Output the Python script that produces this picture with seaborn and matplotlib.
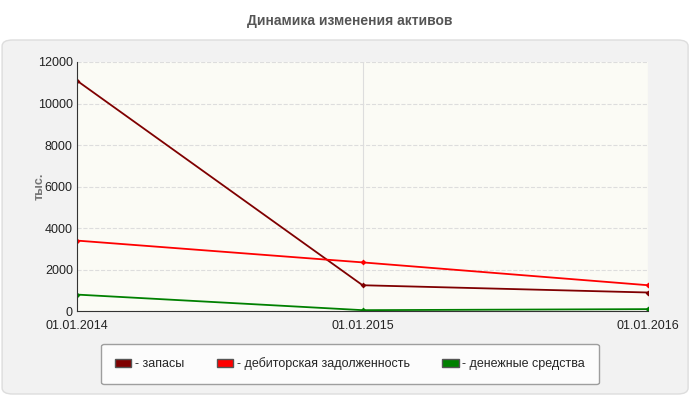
import matplotlib
matplotlib.use("Agg")
import matplotlib.pyplot as plt
import seaborn as sns
import pandas as pd
from matplotlib.patches import FancyBboxPatch

dates = ["01.01.2014", "01.01.2015", "01.01.2016"]
zapasy = [11100, 1250, 900]
debitor = [3400, 2350, 1250]
dengi = [800, 50, 100]
names = ["- запасы", "- дебиторская задолженность", "- денежные средства"]
colors = ["#7f0000", "#ff0000", "#008000"]

df = pd.DataFrame({"x": list(range(3)) * 3,
                   "y": zapasy + debitor + dengi,
                   "s": [n for n in names for _ in range(3)]})

sns.set_style("white")
plt.rcParams["font.family"] = ["Liberation Sans", "DejaVu Sans"]

fig = plt.figure(figsize=(7, 4), dpi=100)
fig.patches.append(FancyBboxPatch((0.003, 0.015), 0.98, 0.885, boxstyle="round,pad=0,rounding_size=0.015",
                                  transform=fig.transFigure, fc="#f2f2f2", ec="#dddddd", lw=1, zorder=-10))
fig.text(0.5, 0.948, "Динамика изменения активов", ha="center", va="center",
         fontsize=10, fontweight="bold", color="#555555")

ax = fig.add_axes([0.11, 0.222, 0.816, 0.623])
ax.set_facecolor("#fbfbf5")
sns.lineplot(data=df, x="x", y="y", hue="s", palette=colors, ax=ax, marker="D",
             markersize=3, markeredgewidth=0, linewidth=1.3, legend=False)
ax.set_xlim(0, 2)
ax.set_ylim(0, 12000)
ax.set_xticks([0, 1, 2])
ax.set_xticklabels(dates)
ax.set_yticks(range(0, 12001, 2000))
ax.tick_params(labelsize=9, colors="#222222", length=0, pad=3)
ax.xaxis.set_tick_params(pad=6)
ax.grid(True, axis="y", ls="--", color="#dddddd", lw=0.8)
ax.grid(True, axis="x", ls="-", color="#dddddd", lw=0.8)
ax.set_xlabel("")
ax.set_ylabel("тыс.", fontsize=9, fontweight="bold", color="#777777", labelpad=-2)
ax.yaxis.set_label_coords(-0.055, 0.5)
for sp in ax.spines.values():
    sp.set_visible(False)
ax.spines["left"].set_visible(True)
ax.spines["bottom"].set_visible(True)
ax.spines["left"].set_color("#333333")
ax.spines["bottom"].set_color("#333333")

handles = [plt.Rectangle((0, 0), 1, 1, fc=c, ec="#555555") for c in colors]
leg = fig.legend(handles, names, loc="center", bbox_to_anchor=(0.5, 0.09), ncol=3,
                 frameon=True, fontsize=9, handlelength=1.3, handleheight=0.7,
                 columnspacing=2.6, borderpad=1.1, handletextpad=0.3)
leg.get_frame().set_facecolor("white")
leg.get_frame().set_edgecolor("#888888")
fig.savefig("out.png", dpi=100)
